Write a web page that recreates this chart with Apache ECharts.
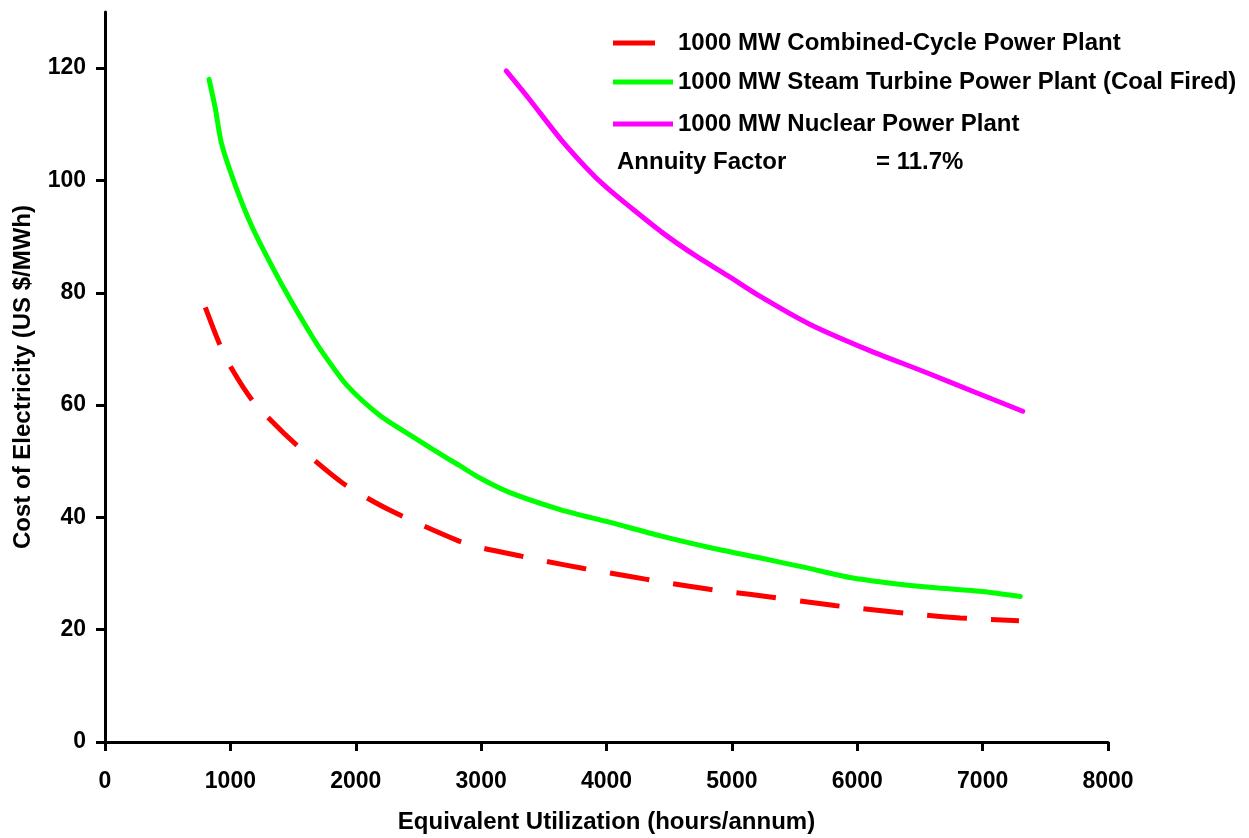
<!DOCTYPE html>
<html>
<head>
<meta charset="utf-8">
<title>Cost of Electricity vs Equivalent Utilization</title>
<script src="https://cdn.jsdelivr.net/npm/echarts@6/dist/echarts.min.js"></script>
<style>
  html, body { margin: 0; padding: 0; background: #ffffff; }
  #chart { width: 1249px; height: 838px; }
</style>
</head>
<body>
<div id="chart"></div>
<script>
// Series names
const seriesNames = [
  '1000 MW Combined-Cycle Power Plant',
  '1000 MW Steam Turbine Power Plant (Coal Fired)',
  '1000 MW Nuclear Power Plant'
];

// Cost of electricity (US $/MWh) against utilization (hours/annum)
const combinedCycle = [
  [800, 77.4], [917, 70.7], [1010, 66.5], [1180, 60.7], [1440, 54.7],
  [1600, 51.5], [1910, 45.9], [2270, 41.3], [2810, 35.9], [3000, 34.6],
  [3320, 33.1], [3510, 32.2], [3820, 30.9], [4000, 30.2], [4310, 29.0],
  [4500, 28.3], [4820, 27.2], [5000, 26.7], [5140, 26.3], [5820, 24.3],
  [6310, 23.1], [6820, 22.1], [7290, 21.6]
];
const coalFired = [
  [830, 118.0], [880, 112.8], [930, 106.5], [1040, 99.1],
  [1170, 91.9], [1330, 84.8], [1490, 78.3], [1650, 72.3], [1740, 69.2],
  [1930, 63.5], [2190, 58.2], [2460, 54.3], [2725, 50.6], [2830, 49.2],
  [2990, 47.0], [3230, 44.4], [3630, 41.4], [4030, 39.1], [4430, 36.7],
  [4830, 34.6], [5220, 32.8], [5600, 31.0], [5940, 29.3], [6300, 28.2],
  [6600, 27.5], [7000, 26.8], [7300, 25.9]
];
const nuclear = [
  [3200, 119.5], [3380, 114.6], [3640, 107.2], [3910, 100.6], [4040, 98.0],
  [4170, 95.6], [4440, 90.8], [4710, 86.6], [4970, 83.0], [5230, 79.3],
  [5620, 74.4], [6100, 69.7], [6550, 65.8], [6950, 62.2], [7320, 58.9]
];

// Axis ticks
const xTicks = [0, 1000, 2000, 3000, 4000, 5000, 6000, 7000, 8000];
const yTicks = [0, 20, 40, 60, 80, 100, 120];

const annuityLabel = 'Annuity Factor';
const annuityValue = '= 11.7%';

const FONT = '"Liberation Sans", Arial, Helvetica, sans-serif';
const colors = ['#ff0000', '#00ff00', '#ff00ff'];

const chart = echarts.init(document.getElementById('chart'), null, { renderer: 'canvas' });

const axisText = { color: '#000', fontFamily: FONT, fontWeight: 'bold', fontSize: 23 };
const nameText = { color: '#000', fontFamily: FONT, fontWeight: 'bold', fontSize: 24 };

// Legend keys: a single dash for the dashed series, a full bar for the solid ones
const dashKey = 'path://M0,0L42,0L42,5L0,5Z';
const solidKey = 'path://M0,0L60,0L60,5L0,5Z';

function legendFor(name, top, icon, width) {
  return {
    data: [{ name: name, icon: icon }],
    left: 613,
    top: top,
    orient: 'horizontal',
    itemWidth: width,
    itemHeight: 5,
    itemGap: 0,
    padding: 0,
    selectedMode: false,
    textStyle: {
      color: '#000', fontFamily: FONT, fontWeight: 'bold', fontSize: 24,
      padding: [0, 0, 0, 60 - width]
    }
  };
}

const option = {
  backgroundColor: '#ffffff',
  animation: false,
  grid: {
    left: 105, right: 141, top: 12, bottom: 96,
    containLabel: false,
    outerBoundsMode: 'none'
  },
  legend: [
    legendFor(seriesNames[0], 31, dashKey, 42),
    legendFor(seriesNames[1], 70, solidKey, 60),
    legendFor(seriesNames[2], 112, solidKey, 60)
  ],
  graphic: [
    {
      type: 'text', left: 617, top: 150,
      style: { text: annuityLabel, font: 'bold 24px ' + FONT, fill: '#000' }
    },
    {
      type: 'text', left: 876, top: 150,
      style: { text: annuityValue, font: 'bold 24px ' + FONT, fill: '#000' }
    }
  ],
  xAxis: {
    type: 'value',
    min: xTicks[0],
    max: xTicks[xTicks.length - 1],
    interval: 1000,
    name: 'Equivalent Utilization (hours/annum)',
    nameLocation: 'middle',
    nameGap: 68,
    nameMoveOverlap: false,
    nameTextStyle: nameText,
    axisLine: { show: true, onZero: false, lineStyle: { color: '#000', width: 3 } },
    axisTick: { show: true, inside: false, length: 9, lineStyle: { color: '#000', width: 3 } },
    axisLabel: Object.assign({ margin: 28, formatter: v => String(v) }, axisText),
    splitLine: { show: false }
  },
  yAxis: {
    type: 'value',
    min: 0,
    max: 130,
    name: 'Cost of Electricity (US $/MWh)',
    nameLocation: 'middle',
    nameGap: 70,
    nameRotate: 90,
    nameMoveOverlap: false,
    nameTextStyle: nameText,
    axisLine: { show: true, onZero: false, lineStyle: { color: '#000', width: 3 } },
    axisTick: { show: true, inside: false, length: 9, customValues: yTicks, lineStyle: { color: '#000', width: 3 } },
    axisLabel: Object.assign({ margin: 19, customValues: yTicks, formatter: v => String(v), padding: [11, 0, 0, 0] }, axisText),
    splitLine: { show: false }
  },
  series: [
    {
      name: seriesNames[0], type: 'line', data: combinedCycle,
      symbol: 'none', smooth: 0.25,
      lineStyle: { color: colors[0], width: 5, type: [40, 24], cap: 'butt' },
      itemStyle: { color: colors[0] }
    },
    {
      name: seriesNames[1], type: 'line', data: coalFired,
      symbol: 'none', smooth: 0.25,
      lineStyle: { color: colors[1], width: 5, cap: 'round', join: 'round' },
      itemStyle: { color: colors[1] }
    },
    {
      name: seriesNames[2], type: 'line', data: nuclear,
      symbol: 'none', smooth: 0.25,
      lineStyle: { color: colors[2], width: 5, cap: 'round', join: 'round' },
      itemStyle: { color: colors[2] }
    }
  ]
};

chart.setOption(option);
</script>
</body>
</html>
